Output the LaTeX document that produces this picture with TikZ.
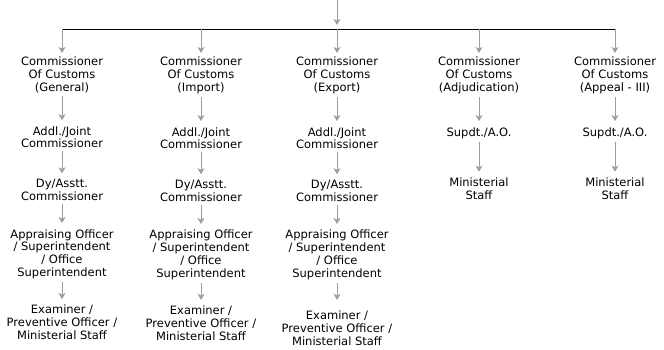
\documentclass[tikz,border=0pt]{standalone}
\usepackage{fontspec}
\setmainfont{DejaVu Sans}
\usepackage{tikz}
\usetikzlibrary{arrows.meta,positioning}

\begin{document}
\begin{tikzpicture}[
  x=1pt, y=-1pt,
  node distance=30pt,
  every node/.style={font=\fontsize{11.5}{12.8}\selectfont},
  post/.style={align=center, inner sep=0pt, text=black},
  arr/.style={-{Stealth[length=6pt,width=7pt,inset=1.5pt]}, draw=black!38,
              line width=1pt, shorten <=3pt, shorten >=6pt},
  bar/.style={draw=black, line width=0.8pt}]
\useasboundingbox (0,0) rectangle (664,350);

% top level
\coordinate (top) at (337,0);
\coordinate (hub) at (337,29);

% commissioners
\node[post, anchor=north] (com1) at (62,57) {Commissioner\\Of Customs\\(General)};
\node[post, anchor=north] (com2) at (201,57) {Commissioner\\Of Customs\\(Import)};
\node[post, anchor=north] (com3) at (337,57) {Commissioner\\Of Customs\\(Export)};
\node[post, anchor=north] (com4) at (479,57) {Commissioner\\Of Customs\\(Adjudication)};
\node[post, anchor=north] (com5) at (615,57) {Commissioner\\Of Customs\\(Appeal - III)};

% general, import, export
\node[post, below=33pt of com1] (addl1) {Addl./Joint\\Commissioner};
\node[post, below=33pt of com2] (addl2) {Addl./Joint\\Commissioner};
\node[post, below=33pt of com3] (addl3) {Addl./Joint\\Commissioner};
\node[post, below=31pt of addl1] (dy1) {Dy/Asstt.\\Commissioner};
\node[post, below=31pt of addl2] (dy2) {Dy/Asstt.\\Commissioner};
\node[post, below=31pt of addl3] (dy3) {Dy/Asstt.\\Commissioner};
\node[post, below=28pt of dy1] (appr1) {Appraising Officer\\/ Superintendent\\/ Office\\Superintendent};
\node[post, below=28pt of dy2] (appr2) {Appraising Officer\\/ Superintendent\\/ Office\\Superintendent};
\node[post, below=28pt of dy3] (appr3) {Appraising Officer\\/ Superintendent\\/ Office\\Superintendent};
\node[post, below=26pt of appr1] (exam1) {Examiner /\\Preventive Officer /\\Ministerial Staff};
\node[post, below=26pt of appr2] (exam2) {Examiner /\\Preventive Officer /\\Ministerial Staff};
\node[post, below=31pt of appr3] (exam3) {Examiner /\\Preventive Officer /\\Ministerial Staff};

% adjudication, appeal
\node[post, below=33pt of com4] (supdt4) {Supdt./A.O.};
\node[post, below=33pt of com5] (supdt5) {Supdt./A.O.};
\node[post, below=39pt of supdt4] (min4) {Ministerial\\Staff};
\node[post, below=39pt of supdt5] (min5) {Ministerial\\Staff};

\draw[arr, shorten <=0pt, shorten >=4pt] (top) -- (hub);
\draw[bar] (com1.north |- hub) -- (com5.north |- hub);
\foreach \n in {com1,com2,com3,com4,com5}
  \draw[arr, shorten <=0pt, shorten >=4pt] (\n.north |- hub) -- (\n);

\draw[arr] (com1) -- (addl1);
\draw[arr] (addl1) -- (dy1);
\draw[arr] (dy1) -- (appr1);
\draw[arr] (appr1) -- (exam1);
\draw[arr] (com2) -- (addl2);
\draw[arr] (addl2) -- (dy2);
\draw[arr] (dy2) -- (appr2);
\draw[arr] (appr2) -- (exam2);
\draw[arr] (com3) -- (addl3);
\draw[arr] (addl3) -- (dy3);
\draw[arr] (dy3) -- (appr3);
\draw[arr, shorten >=11pt] (appr3) -- (exam3);
\draw[arr] (com4) -- (supdt4);
\draw[arr] (supdt4) -- (min4);
\draw[arr] (com5) -- (supdt5);
\draw[arr] (supdt5) -- (min5);
\end{tikzpicture}
\end{document}
